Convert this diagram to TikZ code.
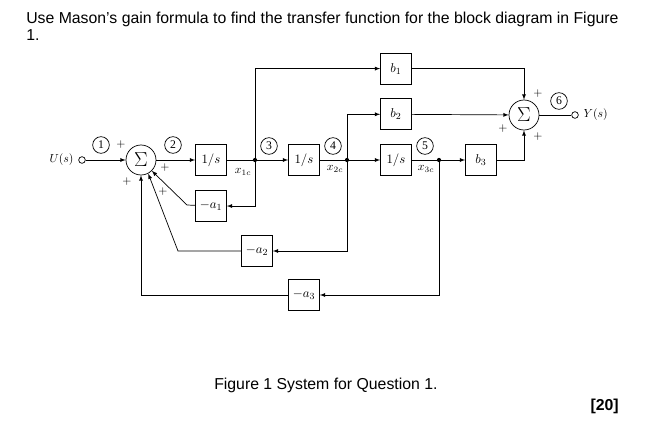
\documentclass[tikz,border=0pt]{standalone}
\usepackage{fontspec}
\usepackage{amsmath}
\setmainfont{Liberation Serif}
\newfontfamily\arial{Liberation Sans}
\usepackage{tikz}
\usetikzlibrary{positioning}

\begin{document}
\begin{tikzpicture}[x=0.03cm, y=-0.03cm, >=latex,
    block/.style={draw, minimum size=0.93cm, inner sep=0, font=\fontsize{11}{13}\selectfont},
    sum/.style={circle, draw, minimum size=0.9cm, inner sep=0, font=\fontsize{16}{18}\selectfont},
    port/.style={circle, draw, minimum size=0.2cm, inner sep=0},
    num/.style={circle, draw, minimum size=0.5cm, inner sep=0},
    sign/.style={inner sep=1pt},
    txt/.style={anchor=base west, font=\arial\fontsize{13.5}{16}\selectfont},
    every path/.style={line width=0.6pt}]
        \useasboundingbox (0,0) rectangle (648,423);

        \node[txt] (T1) at (22,24) {Use Mason’s gain formula to find the transfer function for the block diagram in Figure};
        \node[txt] (T2) at (22,41) {1.};

        \node[port] (U) at (82,160) {};
        \node (Ul) [left = 0.02cm of U] {$U(s)$};
        \node[sum] (S1) at (141,160) {$\Sigma$};
        \node[block] (I1) at (211,160) {$1/s$};
        \node[block] (A1) [below = 0.43cm of I1] {$-a_1$};
        \coordinate (J3) at (255,160);
        \node[block] (I2) at (304,160) {$1/s$};
        \coordinate (J4) at (347,160);
        \node[block] (I3) at (396,160) {$1/s$};
        \coordinate (J5) at (439,160);
        \node[block] (B3) at (481,160) {$b_3$};
        \node[block] (B2) [above = 0.42cm of I3] {$b_2$};
        \node[block] (B1) [above = 0.42cm of B2] {$b_1$};
        \node[block] (A2) at (257,251) {$-a_2$};
        \node[block] (A3) at (304,295) {$-a_3$};
        \node[sum] (S2) at (524,115) {$\Sigma$};
        \node[port] (Y) at (575,115) {};
        \node (Yl) [right = 0.02cm of Y] {$Y(s)$};

        \coordinate (K1) at (187,205);
        \coordinate (K2) at (178,251);

        % forward path
        \draw[->] (U) -- (S1);
        \draw[->] (S1) -- (I1);
        \draw[->] (I1) -- (I2);
        \draw[->] (I2) -- (I3);
        \draw[->] (I3) -- (B3);
        \draw[->] (B3) -| (S2);
        \draw[->] (J3) |- (B1);
        \draw[->] (B1) -| (S2);
        \draw[->] (J4) |- (B2);
        \draw[->] (B2) -- (S2);
        \draw (S2) -- (Y);

        % feedback
        \draw[->] (J3) |- (A1);
        \draw[->] (J4) |- (A2);
        \draw[->] (J5) |- (A3);
        \draw[->] (A1) -- (K1) -- (S1.-45);
        \draw[->] (A2) -- (K2) -- (S1.-62);
        \draw[->] (A3) -| (S1);

        \fill (J3) circle (1.8pt);
        \fill (J4) circle (1.8pt);
        \fill (J5) circle (1.8pt);

        \node[num] (N1) at (101,145) {1};
        \node[num] (N2) at (173,145) {2};
        \node[num] (N3) at (269,146) {3};
        \node[num] (N4) at (333,146) {4};
        \node[num] (N5) at (425,146) {5};
        \node[num] (N6) at (559,101) {6};

        \node[sign] (P1) at (121,145) {$+$};
        \node[sign] (P2) at (165,168) {$+$};
        \node[sign] (P3) at (127,182) {$+$};
        \node[sign] (P4) at (163,192) {$+$};
        \node[sign] (P5) at (538,94) {$+$};
        \node[sign] (P6) at (503,129) {$+$};
        \node[sign] (P7) at (538,137) {$+$};

        \node (X1) at (243,172) {$x_{1c}$};
        \node (X2) at (335,169) {$x_{2c}$};
        \node (X3) at (426,169) {$x_{3c}$};

        \node[txt] (Cap) at (210,389) {Figure 1 System for Question 1.};
        \node[txt, anchor=base east, font=\arial\bfseries\fontsize{13.5}{16}\selectfont] (M) at (623,410) {[20]};
  \end{tikzpicture}
\end{document}
